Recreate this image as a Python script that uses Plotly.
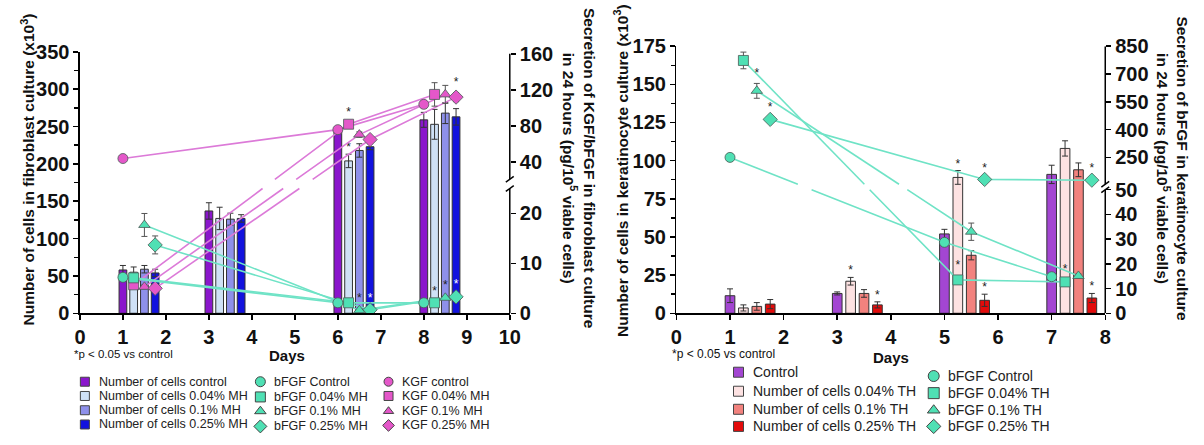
import plotly.graph_objects as go

W, H = 1204, 445
FONT = "Liberation Sans, Arial, Helvetica, sans-serif"

# ---------------- data: fibroblast culture (left panel) ----------------
fib_days = [1, 3, 6, 8]
fib_cell_labels = ["Number of cells control", "Number of cells 0.04% MH",
                   "Number of cells 0.1% MH", "Number of cells 0.25% MH"]
fib_cells_control = [58, 137, 246, 259]
fib_cells_004 = [55, 127, 204, 253]
fib_cells_01 = [59, 126, 218, 268]
fib_cells_025 = [54, 127, 223, 263]
fib_cells_control_err = [6, 11, 3, 10]
fib_cells_004_err = [7, 15, 9, 20]
fib_cells_01_err = [5, 8, 9, 14]
fib_cells_025_err = [5, 5, 4, 11]

fib_sec_days = [1, 6, 8]
fib_bfgf_labels = ["bFGF Control", "bFGF 0.04% MH", "bFGF 0.1% MH", "bFGF 0.25% MH"]
fib_bfgf_control = [7.2, 2.1, 2.1]
fib_bfgf_004 = [7.1, 2.1, 2.1]
fib_bfgf_01 = [17.7, 0.6, 3.1]
fib_bfgf_025 = [13.7, 0.7, 3.3]
fib_bfgf_control_err = [0.6, 0.2, 0.2]
fib_bfgf_004_err = [0.6, 0.2, 0.2]
fib_bfgf_01_err = [2.3, 0.2, 0.3]
fib_bfgf_025_err = [1.8, 0.2, 0.3]

fib_kgf_labels = ["KGF control", "KGF 0.04% MH", "KGF 0.1% MH", "KGF 0.25% MH"]
fib_kgf_control = [44, 76, 104]
fib_kgf_004 = [5.7, 82, 115]
fib_kgf_01 = [5.3, 70.5, 115]
fib_kgf_025 = [5.0, 65, 112]
fib_kgf_control_err = [2, 2, 4]
fib_kgf_004_err = [0.4, 2, 13]
fib_kgf_01_err = [0.4, 3, 10]
fib_kgf_025_err = [0.4, 2, 5]

fib_left_ticks = [0, 50, 100, 150, 200, 250, 300, 350]
fib_right_ticks = [0, 10, 20, 40, 80, 120, 160]
fib_x_ticks = [0, 1, 2, 3, 4, 5, 6, 7, 8, 9, 10]

# significance marks: (time index, series index)
fib_bar_stars = [(2, 1), (2, 2)]
fib_kgf_stars = [(1, 1), (2, 3)]
fib_bfgf_stars = [(1, 2), (1, 3), (2, 1), (2, 2), (2, 3)]

# ---------------- data: keratinocyte culture (right panel) ----------------
ker_days = [1, 3, 5, 7]
ker_cell_labels = ["Control", "Number of cells 0.04% TH",
                   "Number of cells 0.1% TH", "Number of cells 0.25% TH"]
ker_cells_control = [11.5, 13, 52, 91]
ker_cells_004 = [3.5, 21, 89, 108]
ker_cells_01 = [4.5, 13, 38, 94]
ker_cells_025 = [6, 5.5, 8.5, 10]
ker_cells_control_err = [4.5, 1, 3, 6]
ker_cells_004_err = [2, 2.5, 4.5, 5]
ker_cells_01_err = [2.5, 2.5, 3, 4.5]
ker_cells_025_err = [3, 2, 4, 3]

ker_sec_days = [1, 5, 7]
ker_bfgf_labels = ["bFGF Control", "bFGF 0.04% TH", "bFGF 0.1% TH", "bFGF 0.25% TH"]
ker_bfgf_control = [250, 28.7, 14.8]
ker_bfgf_004 = [773, 13.5, 12.7]
ker_bfgf_01 = [609, 33, 15.1]
ker_bfgf_025 = [455, 131, 127]
ker_bfgf_control_err = [20, 1.5, 0.8]
ker_bfgf_004_err = [45, 1.5, 0.8]
ker_bfgf_01_err = [40, 3.5, 0.8]
ker_bfgf_025_err = [8, 5, 5]

ker_left_ticks = [0, 25, 50, 75, 100, 125, 150, 175]
ker_right_ticks = [0, 10, 20, 30, 40, 50, 250, 400, 550, 700, 850]
ker_x_ticks = [0, 1, 2, 3, 4, 5, 6, 7, 8]

ker_bar_stars = [(1, 1), (1, 3), (2, 1), (2, 3), (3, 3)]
ker_bfgf_stars = [(0, 1), (0, 2), (0, 3), (1, 1), (1, 3), (2, 1), (2, 3)]

# ---------------- styling / geometry ----------------
FIB_BAR_COLORS = ["#8a16cc", "#cfe1f6", "#8e90ea", "#1212de"]
KER_BAR_COLORS = ["#a346d2", "#fde2e2", "#f2827e", "#e30b0b"]
TEAL, TEAL_LINE = "#4fe0b4", "#6fe3c6"
PINK, PINK_LINE = "#e457c9", "#dc7ad8"
SYMBOLS = ["circle", "square", "triangle-up", "diamond"]
SIZES = [10, 10, 10, 11]
OFFSETS = [0, 0.25, 0.5, 0.75]
BAR_W = 0.18

BASE = 318
FIB_TOP, KER_TOP = 43, 37
FIB_H, KER_H = BASE - FIB_TOP, BASE - KER_TOP


# broken right axes: value -> pixels above the baseline
def tf_fib(v):
    if v <= 25:
        return v * 5.25
    return 159 + 0.95 * (v - 40)


FIB_GAP = (tf_fib(25), 159 + 0.95 * (21 - 40))


def tf_ker(v):
    if v <= 50:
        return v * 2.6
    return 164 + 0.195 * (v - 250)


KER_GAP = (tf_ker(50), 164 + 0.195 * (105 - 250))


def broken_path(xs, vals, tf, gap):
    lo, hi = gap
    px, py, prev = [], [], None
    for x, v in zip(xs, vals):
        p = tf(v)
        if prev is not None:
            x0, p0 = prev
            if (p0 <= lo and p >= hi) or (p0 >= hi and p <= lo):
                a, b = sorted([(lo - p0) / (p - p0), (hi - p0) / (p - p0)])
                px += [x0 + a * (x - x0), None, x0 + b * (x - x0)]
                py += [p0 + a * (p - p0), None, p0 + b * (p - p0)]
        px.append(x)
        py.append(p)
        prev = (x, p)
    return px, py


fig = go.Figure()


def add_bars(days, series, errs, colors, xa, ya):
    for i, (vals, err) in enumerate(zip(series, errs)):
        fig.add_trace(go.Bar(
            x=[d + OFFSETS[i] for d in days], y=vals, width=BAR_W,
            marker=dict(color=colors[i], line=dict(color="#333", width=1)),
            error_y=dict(type="data", array=err, color="#333", thickness=1, width=3),
            xaxis=xa, yaxis=ya, showlegend=False, hoverinfo="skip"))


def add_secretion(days, series, errs, tf, gap, fill, line_col, xa, ya):
    for i, (vals, err) in enumerate(zip(series, errs)):
        xs = [d + OFFSETS[i] for d in days]
        lx, ly = broken_path(xs, vals, tf, gap)
        fig.add_trace(go.Scatter(x=lx, y=ly, mode="lines", connectgaps=False,
                                 line=dict(color=line_col, width=1.6),
                                 xaxis=xa, yaxis=ya, showlegend=False, hoverinfo="skip"))
    for i, (vals, err) in enumerate(zip(series, errs)):
        xs = [d + OFFSETS[i] for d in days]
        ys = [tf(v) for v in vals]
        up = [tf(v + e) - tf(v) for v, e in zip(vals, err)]
        dn = [tf(v) - tf(v - e) for v, e in zip(vals, err)]
        fig.add_trace(go.Scatter(
            x=xs, y=ys, mode="markers",
            marker=dict(symbol=SYMBOLS[i], size=SIZES[i], color=fill,
                        line=dict(color="#4a5a55", width=0.8)),
            error_y=dict(type="data", array=up, arrayminus=dn, color="#555",
                         thickness=1, width=3),
            xaxis=xa, yaxis=ya, showlegend=False, hoverinfo="skip"))


def add_stars(xs, ys, colors, xa, ya):
    fig.add_trace(go.Scatter(x=xs, y=ys, mode="text", text=["*"] * len(xs),
                             textposition="top center",
                             textfont=dict(size=12, color=colors, family=FONT),
                             xaxis=xa, yaxis=ya, showlegend=False, hoverinfo="skip"))


# ----- left panel -----
fib_cells = [fib_cells_control, fib_cells_004, fib_cells_01, fib_cells_025]
fib_cells_err = [fib_cells_control_err, fib_cells_004_err, fib_cells_01_err, fib_cells_025_err]
fib_bfgf = [fib_bfgf_control, fib_bfgf_004, fib_bfgf_01, fib_bfgf_025]
fib_bfgf_err = [fib_bfgf_control_err, fib_bfgf_004_err, fib_bfgf_01_err, fib_bfgf_025_err]
fib_kgf = [fib_kgf_control, fib_kgf_004, fib_kgf_01, fib_kgf_025]
fib_kgf_err = [fib_kgf_control_err, fib_kgf_004_err, fib_kgf_01_err, fib_kgf_025_err]

add_bars(fib_days, fib_cells, fib_cells_err, FIB_BAR_COLORS, "x", "y")
add_stars([fib_days[t] + OFFSETS[s] for t, s in fib_bar_stars],
          [fib_cells[s][t] + fib_cells_err[s][t] for t, s in fib_bar_stars],
          "#222", "x", "y")
add_secretion(fib_sec_days, fib_kgf, fib_kgf_err, tf_fib, FIB_GAP, PINK, PINK_LINE, "x", "y2")
add_secretion(fib_sec_days, fib_bfgf, fib_bfgf_err, tf_fib, FIB_GAP, TEAL, TEAL_LINE, "x", "y2")
add_stars([fib_sec_days[t] + OFFSETS[s] for t, s in fib_kgf_stars],
          [tf_fib(fib_kgf[s][t] + fib_kgf_err[s][t]) + 4 for t, s in fib_kgf_stars],
          "#222", "x", "y2")
add_stars([fib_sec_days[t] + OFFSETS[s] for t, s in fib_bfgf_stars],
          [tf_fib(fib_bfgf[s][t] + fib_bfgf_err[s][t]) + 4 for t, s in fib_bfgf_stars],
          ["white" if s == 3 else "#222" for t, s in fib_bfgf_stars], "x", "y2")

# ----- right panel -----
ker_cells = [ker_cells_control, ker_cells_004, ker_cells_01, ker_cells_025]
ker_cells_err = [ker_cells_control_err, ker_cells_004_err, ker_cells_01_err, ker_cells_025_err]
ker_bfgf = [ker_bfgf_control, ker_bfgf_004, ker_bfgf_01, ker_bfgf_025]
ker_bfgf_err = [ker_bfgf_control_err, ker_bfgf_004_err, ker_bfgf_01_err, ker_bfgf_025_err]

add_bars(ker_days, ker_cells, ker_cells_err, KER_BAR_COLORS, "x2", "y3")
add_stars([ker_days[t] + OFFSETS[s] for t, s in ker_bar_stars],
          [ker_cells[s][t] + ker_cells_err[s][t] for t, s in ker_bar_stars],
          "#222", "x2", "y3")
add_secretion(ker_sec_days, ker_bfgf, ker_bfgf_err, tf_ker, KER_GAP, TEAL, TEAL_LINE, "x2", "y4")
add_stars([ker_sec_days[t] + OFFSETS[s] for t, s in ker_bfgf_stars],
          [tf_ker(ker_bfgf[s][t] + ker_bfgf_err[s][t]) + 4 for t, s in ker_bfgf_stars],
          "#222", "x2", "y4")

# ----- hand-made legends on a full-figure helper axis -----
leg_x1, leg_text_x1 = 80, 92
leg_rows1 = [390, 405, 420, 435]
leg_x2, leg_text_x2 = 258, 270
leg_rows2 = [390, 406, 421, 437]
leg_x3, leg_text_x3 = 388, 400
leg_rows3 = [390, 405, 421, 436]
leg_x4, leg_text_x4 = 743, 756
leg_rows4 = [380, 400, 419, 437]
leg_x5, leg_text_x5 = 941, 953
leg_rows5 = [384, 402, 420, 437]

annotations = []


def legend_column(x, tx, rows, labels, symbols, colors, size, fsize):
    fig.add_trace(go.Scatter(
        x=[x] * len(rows), y=rows, mode="markers",
        marker=dict(symbol=symbols, size=size, color=colors,
                    line=dict(color="#444", width=1)),
        xaxis="x3", yaxis="y5", showlegend=False, hoverinfo="skip"))
    for r, lab in zip(rows, labels):
        annotations.append(dict(x=tx / W, y=1 - r / H, xref="paper", yref="paper",
                                text=lab, showarrow=False, xanchor="left", yanchor="middle",
                                font=dict(size=fsize, color="#222", family=FONT)))


legend_column(leg_x1, leg_text_x1, leg_rows1, fib_cell_labels, ["square"] * 4, FIB_BAR_COLORS, 9, 12.5)
legend_column(leg_x2, leg_text_x2, leg_rows2, fib_bfgf_labels, SYMBOLS, [TEAL] * 4, 10, 12.5)
legend_column(leg_x3, leg_text_x3, leg_rows3, fib_kgf_labels, SYMBOLS, [PINK] * 4, 9, 12.5)
legend_column(leg_x4, leg_text_x4, leg_rows4, ker_cell_labels, ["square"] * 4, KER_BAR_COLORS, 10, 14)
legend_column(leg_x5, leg_text_x5, leg_rows5, ker_bfgf_labels, SYMBOLS, [TEAL] * 4, 11, 14)


# ----- axis titles and notes -----
def text(x, y, s, size, bold=False, angle=0, anchor="center"):
    annotations.append(dict(x=x / W, y=1 - y / H, xref="paper", yref="paper", text=s,
                            showarrow=False, textangle=angle, xanchor=anchor, yanchor="middle",
                            font=dict(size=size, color="#111", family=FONT,
                                      weight="bold" if bold else "normal")))


text(22, 167, "Number of cells in fibroblast culture (x10<sup>3</sup>)", 15.5, True, -90)
text(581, 166, "Secretion of KGF/bFGF in fibroblast culture<br>in 24 hours (pg/10<sup>5</sup> viable cells)",
     15.5, True, 90)
text(624, 168, "Number of cells in keratinocyte culture (x10<sup>3</sup>)", 15.5, True, -90)
text(1183, 166, "Secretion of bFGF in keratinocyte culture<br>in 24 hours (pg/10<sup>5</sup> viable cells)",
     15.5, True, 90)
text(285, 362, "Days", 15, True)
text(898, 364, "Days", 15, True)
text(67, 361, "*p &lt; 0.05 vs control", 11.5, False, 0, "left")
text(674, 361, "*p &lt; 0.05 vs control", 12, False, 0, "left")

# ----- broken right axis lines -----
shapes = []


def broken_axis(xref, yref, gap, top):
    lo, hi = gap
    line = dict(color="black", width=1.5)
    shapes.append(dict(type="line", xref=xref, yref=yref, x0=1, x1=1, y0=0, y1=lo, line=line))
    shapes.append(dict(type="line", xref=xref, yref=yref, x0=1, x1=1, y0=hi, y1=top, line=line))
    dx = 4 / 436
    for yy in (lo, hi):
        shapes.append(dict(type="line", xref=xref, yref=yref, x0=1 - dx, x1=1 + dx,
                           y0=yy - 3, y1=yy + 3, line=line))


broken_axis("x domain", "y2", FIB_GAP, tf_fib(160))
broken_axis("x2 domain", "y4", KER_GAP, tf_ker(850))

tickfont = dict(size=20, color="#111", family=FONT, weight="bold")
common = dict(showgrid=False, zeroline=False, ticks="outside", ticklen=5, tickwidth=1.5,
              tickcolor="black", tickfont=tickfont, fixedrange=True)

fy0 = 1 - BASE / H

fig.update_layout(
    width=W, height=H, margin=dict(l=0, r=0, t=0, b=0),
    paper_bgcolor="white", plot_bgcolor="rgba(0,0,0,0)",
    barmode="overlay", showlegend=False,
    font=dict(family=FONT, color="#111"),
    xaxis=dict(domain=[75 / W, 511 / W], range=[0, 10], tickvals=fib_x_ticks, anchor="y",
               showline=True, linecolor="black", linewidth=1.5, **common),
    yaxis=dict(domain=[fy0, 1 - FIB_TOP / H], range=[0, 350], tickvals=fib_left_ticks, anchor="x",
               showline=True, linecolor="black", linewidth=1.5,
               minor=dict(dtick=25, tick0=0, ticks="outside", ticklen=4, tickwidth=1.5,
                          tickcolor="black", showgrid=False), **common),
    yaxis2=dict(overlaying="y", side="right", anchor="x", range=[0, FIB_H],
                tickvals=[tf_fib(v) for v in fib_right_ticks], ticktext=[str(v) for v in fib_right_ticks],
                showline=False, **common),
    xaxis2=dict(domain=[680 / W, 1115 / W], range=[0, 8], tickvals=ker_x_ticks, anchor="y3",
                showline=True, linecolor="black", linewidth=1.5, **common),
    yaxis3=dict(domain=[fy0, 1 - KER_TOP / H], range=[0, 175], tickvals=ker_left_ticks, anchor="x2",
                showline=True, linecolor="black", linewidth=1.5,
                minor=dict(dtick=12.5, tick0=0, ticks="outside", ticklen=4, tickwidth=1.5,
                           tickcolor="black", showgrid=False), **common),
    yaxis4=dict(overlaying="y3", side="right", anchor="x2", range=[0, KER_H],
                tickvals=[tf_ker(v) for v in ker_right_ticks], ticktext=[str(v) for v in ker_right_ticks],
                showline=False, **common),
    xaxis3=dict(domain=[0, 1], range=[0, W], visible=False, anchor="y5", fixedrange=True),
    yaxis5=dict(domain=[0, 1], range=[H, 0], visible=False, anchor="x3", fixedrange=True),
    annotations=annotations, shapes=shapes,
)

fig.write_html("out.html", config={"displayModeBar": False, "staticPlot": True},
               post_script="document.body.style.margin='0';document.body.style.overflow='hidden';")
